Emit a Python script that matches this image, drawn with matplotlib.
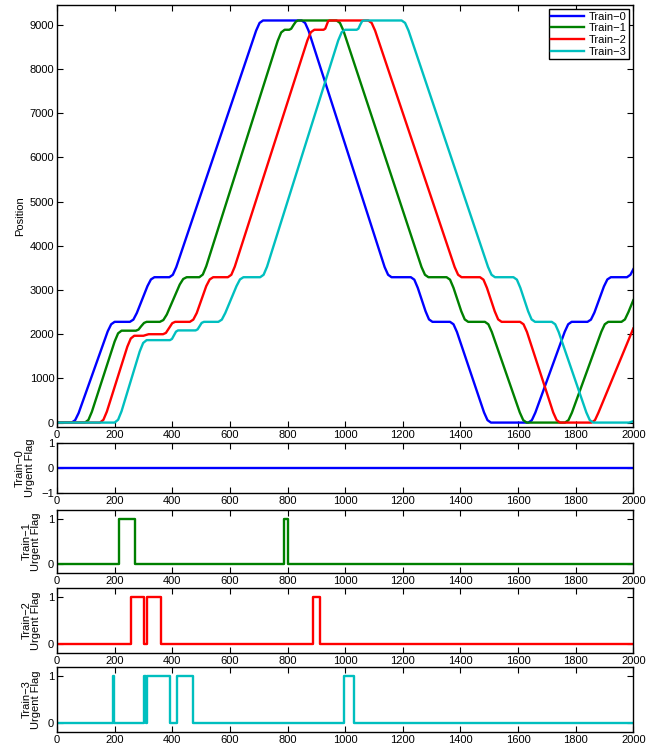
import numpy as np
import matplotlib
matplotlib.use('Agg')
import matplotlib.pyplot as plt

plt.rcParams['font.family'] = ['Liberation Sans', 'DejaVu Sans']
plt.rcParams['font.size'] = 8

# posições dos trens (tempo, posição)
t0 = [0, 51, 63, 75, 176, 188, 200,
      253, 265, 277, 314, 326, 338,
      390, 402, 414, 691, 703, 715,
      849, 861, 873, 1137, 1149, 1161,
      1228, 1240, 1252, 1279, 1291, 1303,
      1364, 1376, 1388, 1482, 1494, 1506,
      1636, 1648, 1660, 1762, 1774, 1786,
      1841, 1853, 1865, 1898, 1910, 1922,
      1978, 1990, 2000]
p0 = [0, 0, 55, 215, 2065, 2225, 2280,
      2280, 2330, 2480, 3090, 3240, 3290,
      3290, 3345, 3520, 8870, 9045, 9100,
      9100, 9045, 8870, 3520, 3345, 3290,
      3290, 3235, 3050, 2520, 2335, 2280,
      2280, 2225, 2050, 230, 55, 0,
      0, 55, 225, 2055, 2225, 2280,
      2280, 2330, 2490, 3080, 3240, 3290,
      3290, 3345, 3470]

t1 = [0, 97, 109, 121, 200, 212, 224,
      274, 283, 292, 302, 311,
      357, 369, 381, 426, 438, 450,
      494, 506, 518, 766, 778, 790,
      806, 813, 821, 829, 836,
      970, 982, 994, 1265, 1277, 1289,
      1352, 1364, 1376, 1403, 1415, 1427,
      1485, 1497, 1509, 1606, 1618, 1630,
      1763, 1775, 1787, 1889, 1901, 1913,
      1959, 1971, 1983, 2000]
p1 = [0, 0, 60, 245, 1835, 2020, 2080,
      2080, 2105, 2180, 2255, 2280,
      2280, 2320, 2445, 3125, 3250, 3290,
      3290, 3350, 3540, 8640, 8830, 8890,
      8890, 8915, 9000, 9075, 9100,
      9100, 9045, 8870, 3520, 3345, 3290,
      3290, 3235, 3050, 2520, 2335, 2280,
      2280, 2225, 2050, 230, 55, 0,
      0, 55, 225, 2055, 2225, 2280,
      2280, 2335, 2500, 2770]

t2 = [0, 149, 161, 173, 244, 256, 268,
      300, 309, 318,
      368, 378, 389, 400, 410,
      461, 473, 485, 518, 530, 542,
      593, 605, 617, 869, 881, 893,
      925, 931, 936, 941, 946,
      1080, 1092, 1104, 1380, 1392, 1404,
      1468, 1480, 1492, 1519, 1531, 1543,
      1607, 1619, 1631, 1722, 1734, 1746,
      1855, 1867, 1879, 2000]
p2 = [0, 0, 62, 248, 1717, 1903, 1965,
      1965, 1983, 2000,
      2000, 2030, 2140, 2250, 2280,
      2280, 2330, 2480, 3090, 3240, 3290,
      3290, 3345, 3530, 8650, 8835, 8890,
      8890, 8915, 9000, 9085, 9100,
      9100, 9045, 8870, 3520, 3345, 3290,
      3290, 3235, 3050, 2520, 2335, 2280,
      2280, 2225, 2050, 230, 55, 0,
      0, 55, 225, 2130]

t3 = [0, 200, 212, 224, 287, 299, 311,
      392, 399, 406, 413, 420,
      481, 488, 495, 502, 510,
      560, 572, 584, 623, 635, 647,
      705, 717, 729, 976, 988, 1000,
      1040, 1046, 1052, 1059, 1065,
      1196, 1208, 1220, 1496, 1508, 1520,
      1584, 1596, 1608, 1635, 1647, 1659,
      1717, 1729, 1741, 1837, 1849, 1861,
      1985, 2000]
p3 = [0, 0, 64, 257, 1609, 1802, 1866,
      1866, 1893, 1976, 2059, 2086,
      2086, 2110, 2183, 2256, 2280,
      2280, 2330, 2480, 3090, 3240, 3290,
      3290, 3345, 3530, 8650, 8835, 8890,
      8890, 8915, 9000, 9085, 9100,
      9100, 9045, 8870, 3520, 3345, 3290,
      3290, 3235, 3050, 2520, 2335, 2280,
      2280, 2225, 2050, 230, 55, 0,
      0, 30]

# flags de urgência (instantes de troca, degrau)
f0_t = [0, 2000]
f0_v = [0, 0]
f1_t = [0, 216, 270, 789, 800, 2000]
f1_v = [0, 1, 0, 1, 0, 0]
f2_t = [0, 257, 303, 313, 361, 888, 914, 2000]
f2_v = [0, 1, 0, 1, 0, 1, 0, 0]
f3_t = [0, 196, 199, 303, 309, 314, 392, 415, 472, 996, 1032, 2000]
f3_v = [0, 1, 0, 1, 0, 1, 0, 1, 0, 1, 0, 0]

nomes = ['Train\u22120', 'Train\u22121', 'Train\u22122', 'Train\u22123']
cores = ['#0000ff', '#008000', '#ff0000', '#00bfbf']


def estilo(ax):
    ax.set_xlim(0, 2000)
    ax.set_xticks(np.arange(0, 2001, 200))
    ax.tick_params(direction='in', top=True, right=True, length=4,
                   width=0.8, labelsize=8, pad=2)
    for s in ax.spines.values():
        s.set_linewidth(1.0)


fig = plt.figure(figsize=(6.59, 7.49), dpi=100)

ax = fig.add_axes([0.0865, 0.4299, 0.8745, 0.5634])
for t, p, c, n in zip([t0, t1, t2, t3], [p0, p1, p2, p3], cores, nomes):
    ax.plot(t, p, color=c, lw=1.7, label=n)
estilo(ax)
ax.set_ylim(-100, 9450)
ax.set_yticks(np.arange(0, 9001, 1000))
ax.set_ylabel('Position', fontsize=8, labelpad=3)
leg = ax.legend(loc='upper right', fancybox=False, framealpha=1,
                edgecolor='black', fontsize=8, handlelength=3.0,
                borderaxespad=0.4, borderpad=0.2, labelspacing=0.15,
                handletextpad=0.4)
leg.get_frame().set_linewidth(1.0)

posicoes = [[0.0865, 0.3418, 0.8745, 0.0668],
            [0.0865, 0.2350, 0.8745, 0.0841],
            [0.0865, 0.1282, 0.8745, 0.0868],
            [0.0865, 0.0227, 0.8745, 0.0868]]
flags_t = [f0_t, f1_t, f2_t, f3_t]
flags_v = [f0_v, f1_v, f2_v, f3_v]

for i in range(4):
    a = fig.add_axes(posicoes[i])
    a.plot(flags_t[i], flags_v[i], drawstyle='steps-post', color=cores[i], lw=1.7)
    estilo(a)
    if i == 0:
        a.set_ylim(-1, 1)
        a.set_yticks([-1, 0, 1])
    else:
        a.set_ylim(-0.2, 1.2)
        a.set_yticks([0, 1])
    a.set_ylabel(nomes[i] + '\nUrgent Flag', fontsize=8, labelpad=5,
                 linespacing=0.95)

fig.savefig('out.png', dpi=100)
